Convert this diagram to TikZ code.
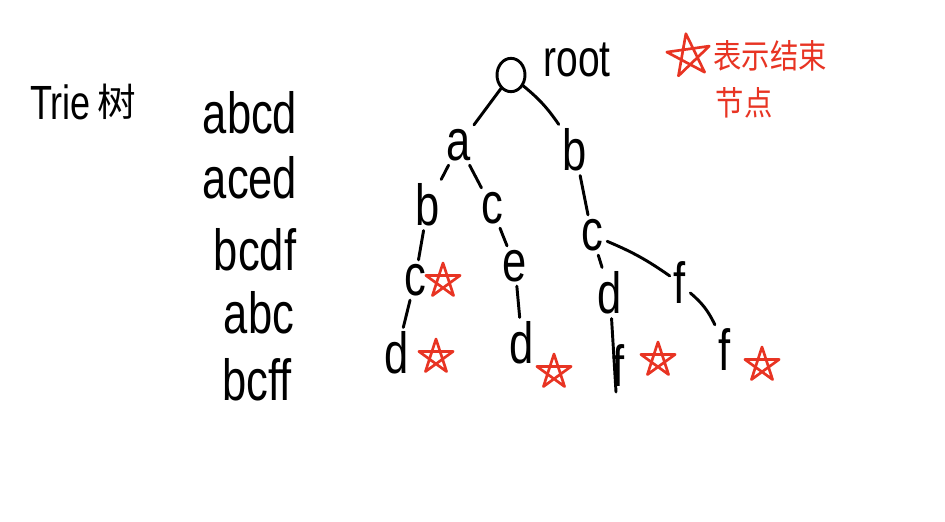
\documentclass[tikz,border=0pt]{standalone}
\usepackage{fontspec}
\setmainfont{Liberation Sans}
\newfontfamily\hand[FakeStretch=0.75]{Liberation Sans}
\newfontfamily\cjk{Noto Sans CJK SC}
\newfontfamily\cjknarrow[FakeStretch=0.85]{Noto Sans CJK SC}
\usetikzlibrary{shapes.geometric}
\definecolor{inkred}{RGB}{232,52,35}
\begin{document}
\begin{tikzpicture}[x=0.75pt,y=-0.75pt,
  ink/.style={line width=2.2pt, line cap=round, draw=black},
  letter/.style={font=\hand\fontsize{43.5}{44}\selectfont, inner sep=3pt},
  word/.style={font=\hand\fontsize{43.5}{44}\selectfont, inner sep=0pt},
  redtext/.style={font=\cjknarrow\fontsize{25}{27}\selectfont, text=inkred, inner sep=0pt},
  endstar/.pic={\draw[inkred, line width=2pt, line join=round]
     (-90:18) -- (54:18) -- (198:18) -- (-18:18) -- (126:18) -- cycle;}
]
\useasboundingbox (0,0) rectangle (945,521);
\fill[white] (0,0) rectangle (945,521);

% title
\node[inner sep=0pt, anchor=west, font=\hand\fontsize{36}{38}\selectfont] (title) at (30,102) {Trie};
\node[inner sep=0pt, anchor=west, font=\cjk\fontsize{29}{30}\selectfont] (shu) at (title.east) {\,树};

% word list
\node[word] (w1) at (250,113) {abcd};
\node[word] (w2) at (250,178) {aced};
\node[word] (w3) at (255,250) {bcdf};
\node[word] (w4) at (259,313) {abc};
\node[word] (w5) at (257,380) {bcff};

% tree
\node[ink, draw, ellipse, minimum width=21pt, minimum height=25pt, inner sep=0pt] (root) at (511,75) {};
\node[inner sep=0pt, font=\hand\fontsize{39}{40}\selectfont] (rootlbl) at (577,60) {root};

\node[letter] (a)  at (459,145) {a};
\node[letter] (b)  at (575,150) {b};
\node[letter] (ab) at (428,205) {b};
\node[letter] (ac) at (492,208) {c};
\node[letter] (bc) at (592,235) {c};
\node[letter] (abc) at (415,280) {c};
\node[letter] (ace) at (515,266) {e};
\node[letter] (bcd) at (610,293) {d};
\node[letter] (bcf) at (680,283) {f};
\node[letter] (abcd) at (397,353) {d};
\node[letter] (aced) at (522,343) {d};
\node[letter] (bcdf) at (619,366) {f};
\node[letter] (bcff) at (725,350) {f};
\coordinate (bcdfend) at (616,392);

\draw[ink] (root) -- (a);
\draw[ink] (root) to[bend left=8] (b);
\draw[ink] (a) -- (ab);
\draw[ink] (a) -- (ac);
\draw[ink] (b) -- (bc);
\draw[ink] (ab) -- (abc);
\draw[ink] (ac) -- (ace);
\draw[ink] (bc) -- (bcd);
\draw[ink] (bc) to[bend left=6] (bcf);
\draw[ink] (abc) -- (abcd);
\draw[ink] (ace) -- (aced);
\draw[ink] (bcd) -- (bcdfend);
\draw[ink] (bcf) to[bend left=12] (bcff);

% end-node stars
\pic at (443,281) {endstar};
\pic at (436,357) {endstar};
\pic at (554,372) {endstar};
\pic at (658,360) {endstar};
\pic at (762,365) {endstar};

% legend
\pic[rotate=8, scale=1.25] at (689,56) {endstar};
\node[redtext] (leg1) at (770,56) {表示结束};
\node[redtext] (leg2) at (744,103) {节点};
\end{tikzpicture}
\end{document}
